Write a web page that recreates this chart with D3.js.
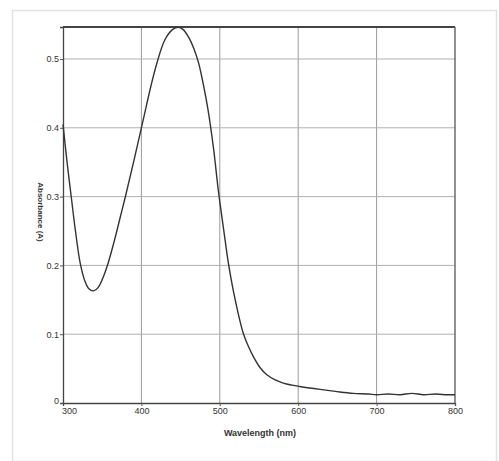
<!DOCTYPE html>
<html><head><meta charset="utf-8">
<script src="https://cdn.jsdelivr.net/npm/d3@7"></script>
<style>body{margin:0;background:#fff}svg{display:block}</style>
</head><body>
<svg id="c" width="499" height="461"></svg>
<script>
const wavelength = [300,305,311,316,322,328,333,339,345,352,358,366,373,380,390,402,412,420,430,440,447,453,460,467,473,479,485,492,498,502,507,511,520,530,537,543,551,560,570,581,592,602,620,640,653,670,690,700,715,730,745,760,775,790,800];
const absorbance = [0.405,0.352,0.295,0.249,0.203,0.177,0.166,0.163,0.168,0.185,0.205,0.238,0.270,0.302,0.350,0.410,0.460,0.495,0.528,0.543,0.546,0.543,0.532,0.515,0.494,0.463,0.426,0.37,0.31,0.276,0.235,0.203,0.148,0.101,0.081,0.067,0.052,0.041,0.034,0.029,0.026,0.024,0.021,0.018,0.016,0.014,0.013,0.012,0.013,0.012,0.014,0.012,0.013,0.012,0.012];
const xTicks = [300,400,500,600,700,800];
const yTicks = [0,0.1,0.2,0.3,0.4,0.5];
const xLabel = "Wavelength (nm)";
const yLabel = "Absorbance (A)";

const svg = d3.select("#c");
const L=63,R=455,T=27,B=403;
const x = d3.scaleLinear().domain([300,800]).range([L,R]);
const y = d3.scaleLinear().domain([0,0.5465]).range([B,T]);
const font = "Liberation Sans Narrow, Liberation Sans, Arial";

// outer frame
svg.append("rect").attr("x",12.5).attr("y",10.5).attr("width",484).attr("height",451)
  .attr("fill","none").attr("stroke","#e2e2e2").attr("stroke-width",1.5);

// grid
const g = svg.append("g");
g.selectAll(".vx").data(xTicks.slice(1,-1)).join("line")
  .attr("x1",d=>x(d)).attr("x2",d=>x(d)).attr("y1",T).attr("y2",B)
  .attr("stroke","#9a9a9a").attr("stroke-width",1);
g.selectAll(".hy").data(yTicks.slice(1)).join("line")
  .attr("x1",L).attr("x2",R).attr("y1",d=>y(d)).attr("y2",d=>y(d))
  .attr("stroke","#b0b0b0").attr("stroke-width",1);

// axes
const xa = svg.append("g").attr("transform",`translate(0,${B})`)
  .call(d3.axisBottom(x).tickValues(xTicks).tickSize(3).tickPadding(2).tickFormat(d3.format("d")));
const ya = svg.append("g").attr("transform",`translate(${L},0)`)
  .call(d3.axisLeft(y).tickValues(yTicks).tickSize(3).tickPadding(1).tickFormat(d=>d===0?"0":d3.format(".1f")(d)));
[xa,ya].forEach(a=>{
  a.select(".domain").attr("stroke","#444").attr("stroke-width",1.3);
  a.selectAll(".tick line").attr("stroke","#555");
  a.selectAll("text").attr("font-family",font).attr("font-size",9).attr("fill","#333");
});
xa.selectAll(".tick text").filter(d=>d===300).attr("dx",6);
ya.selectAll(".tick text").filter(d=>d===0).attr("dy","0.1em");
// top & right border
svg.append("line").attr("x1",L).attr("x2",R).attr("y1",T).attr("y2",T).attr("stroke","#444").attr("stroke-width",2);
svg.append("line").attr("x1",R).attr("x2",R).attr("y1",T).attr("y2",B).attr("stroke","#555").attr("stroke-width",1.3);

// curve
svg.append("path").datum(wavelength.map((w,i)=>[w,absorbance[i]]))
  .attr("fill","none").attr("stroke","#333").attr("stroke-width",1.4)
  .attr("d",d3.line().x(d=>x(d[0])).y(d=>y(d[1])).curve(d3.curveCatmullRom.alpha(0.5)));

// labels
svg.append("text").attr("x",260).attr("y",436).attr("text-anchor","middle")
  .attr("font-family",font).attr("font-size",9).attr("font-weight","bold").attr("fill","#333").text(xLabel);
svg.append("text").attr("transform","translate(38,212) rotate(90)").attr("text-anchor","middle")
  .attr("font-family",font).attr("font-size",8).attr("font-weight","bold").attr("fill","#333").text(yLabel);
</script>
</body></html>
